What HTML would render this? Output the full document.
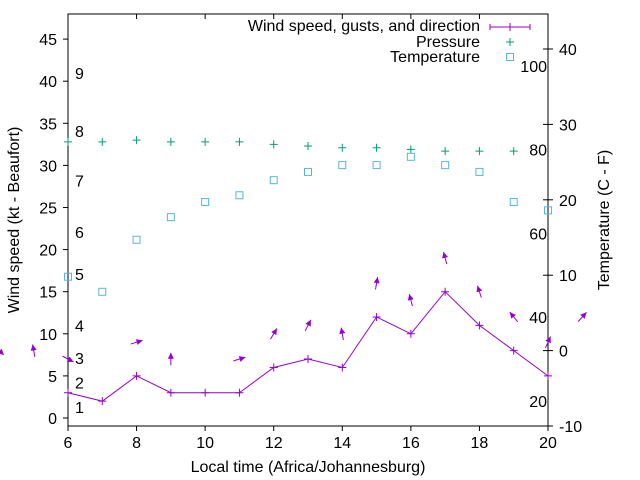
<!DOCTYPE html>
<html><head><meta charset="utf-8"><style>
html,body{margin:0;padding:0;background:#fff}
svg{display:block;font-family:"Liberation Sans",sans-serif}
</style></head><body>
<svg id="chart" width="640" height="480" viewBox="0 0 640 480" xmlns="http://www.w3.org/2000/svg"></svg>
<script>
const hours = [6,7,8,9,10,11,12,13,14,15,16,17,18,19,20];
const windSpeed = [3,2,5,3,3,3,6,7,6,12,10,15,11,8,5];
const pressureScaled = [32.8,32.8,33.0,32.8,32.8,32.8,32.5,32.3,32.1,32.1,31.9,31.7,31.7,31.7];
const pressureHours = [6,7,8,9,10,11,12,13,14,15,16,17,18,19];
const temperatureC = [9.8,7.8,14.7,17.7,19.7,20.6,22.6,23.7,24.6,24.6,25.7,24.6,23.7,19.7,18.6];
const gustHours = [4,5,6,8,9,11,12,13,14,15,16,17,18,19,20,21];
const gusts = [8,8,7,9,7,7,10,11,10,16,14,19,15,12,9,12];
const gustDir = [-45,100,-28,17,90,17,59,63,100,80,105,105,108,129,66,48];
const xTicks = [6,8,10,12,14,16,18,20];
const yTicks = [0,5,10,15,20,25,30,35,40,45];
const y2Ticks = [-10,0,10,20,30,40];
const beaufortLabels = ["1","2","3","4","5","6","7","8","9"];
const beaufortKt = [1.3,4.2,7.1,11.0,17.1,22.1,28.2,34.1,41.0];
const fahrenheitLabels = [20,40,60,80,100];

const L=68,R=548,T=14,B=426;
const X=h=>L+(h-6)*(R-L)/14;
const Y=v=>418-v*8.42;
const Y2=c=>350.6-c*7.54;
const svg=document.getElementById('chart');
const NS='http://www.w3.org/2000/svg';
function mk(tag,attrs,parent){const e=document.createElementNS(NS,tag);for(const k in attrs)e.setAttribute(k,attrs[k]);(parent||svg).appendChild(e);return e;}
function txt(s,x,y,anchor,size,name){const t=mk('text',{x:x,y:y,'text-anchor':anchor,'font-size':size||16,fill:'#000'});t.textContent=s;


return t;}

const border=mk('rect',{x:L,y:T,width:R-L,height:B-T,fill:'none',stroke:'#000','stroke-width':1});



xTicks.forEach(h=>{
  const g=mk('g',{});
  
  
  mk('line',{x1:X(h),y1:B,x2:X(h),y2:B+5,stroke:'#000'},g);
  mk('line',{x1:X(h),y1:T,x2:X(h),y2:T+5,stroke:'#000'},g);
  txt(String(h),X(h),B+22,'middle',16,'x-tick-label');
});
yTicks.forEach(v=>{
  const l=mk('line',{x1:L-5,y1:Y(v),x2:L,y2:Y(v),stroke:'#000'});
  
  
  txt(String(v),L-11,Y(v)+6,'end',16,'y-tick-label');
});
y2Ticks.forEach(c=>{
  const l=mk('line',{x1:R-5,y1:Y2(c),x2:R+5,y2:Y2(c),stroke:'#000'});
  
  
  txt(String(c),R+11,Y2(c)+6,'start',16,'y2-tick-label');
});
beaufortLabels.forEach((s,i)=>txt(s,75,Y(beaufortKt[i])+6,'start',16,'beaufort-label'));
fahrenheitLabels.forEach(f=>txt(String(f),547,Y2((f-32)/1.8)+6,'end',16,'fahrenheit-label'));

const yt=txt('Wind speed (kt - Beaufort)',0,0,'middle',16,'y-axis-title');
yt.setAttribute('transform','translate(19,220) rotate(-90)');
const y2t=txt('Temperature (C - F)',0,0,'middle',16,'y2-axis-title');
y2t.setAttribute('transform','translate(609,220) rotate(-90)');
txt('Local time (Africa/Johannesburg)',308,472,'middle',16,'x-axis-title');

const purple='#9400d3';
const wl=mk('polyline',{points:hours.map((h,i)=>X(h)+','+Y(windSpeed[i])).join(' '),fill:'none',stroke:purple,'stroke-width':1});


hours.forEach((h,i)=>{
  const p=mk('path',{d:`M${X(h)-4},${Y(windSpeed[i])}h8M${X(h)},${Y(windSpeed[i])-4}v8`,stroke:purple});
  
  
});
gustHours.forEach((h,i)=>{
  const cx=X(h),cy=Y(gusts[i]),a=gustDir[i]*Math.PI/180,len=12.5;
  const dx=Math.cos(a)*len/2,dy=-Math.sin(a)*len/2;
  const x1=cx-dx,y1=cy-dy,x2=cx+dx,y2=cy+dy;
  const ux=Math.cos(a),uy=-Math.sin(a);
  const hx=x2-ux*6,hy=y2-uy*6;
  const g=mk('g',{});
  
  
  mk('line',{x1:x1,y1:y1,x2:x2,y2:y2,stroke:purple,'stroke-width':1},g);
  mk('polygon',{points:`${x2},${y2} ${hx-uy*3},${hy+ux*3} ${hx+uy*3},${hy-ux*3}`,fill:purple},g);
});
const green='#009e73';
pressureHours.forEach((h,i)=>{
  const p=mk('path',{d:`M${X(h)-4},${Y(pressureScaled[i])}h8M${X(h)},${Y(pressureScaled[i])-4}v8`,stroke:green});
  
  
});
const cyan='#56b4e9';
hours.forEach((h,i)=>{
  const r=mk('rect',{x:X(h)-3.5,y:Y2(temperatureC[i])-3.5,width:7,height:7,fill:'none',stroke:cyan});
  
  
});
const lg=mk('g',{});


txt('Wind speed, gusts, and direction',480,31,'end',16,'legend-wind');
txt('Pressure',480,47,'end',16,'legend-pressure');
txt('Temperature',480,62,'end',16,'legend-temperature');
mk('path',{d:'M490,27h40M490,24v6M510,23v8M530,24v6',stroke:purple,fill:'none'},lg);
mk('path',{d:'M506,42h8M510,38v8',stroke:green},lg);
mk('rect',{x:506.5,y:53.5,width:7,height:7,fill:'none',stroke:cyan},lg);
</script>
</body></html>
